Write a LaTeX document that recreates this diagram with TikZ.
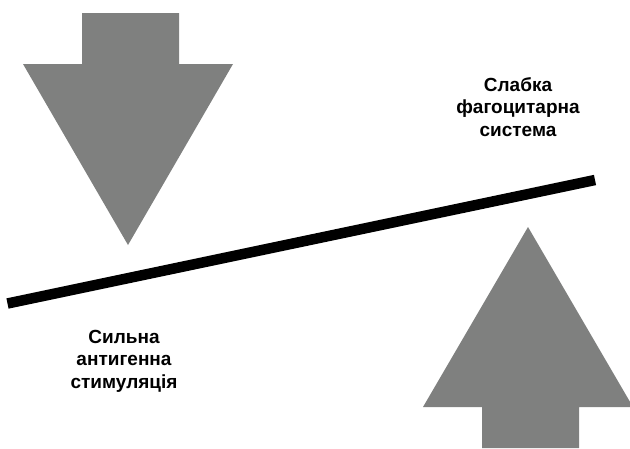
\documentclass[tikz,border=0pt]{standalone}
\usepackage{fontspec}
\setmainfont{Liberation Sans}
\usepackage{tikz}
\usetikzlibrary{positioning}
\definecolor{arrowgray}{HTML}{7F807F}

\begin{document}
\begin{tikzpicture}[x=1pt, y=-1pt, bigarrow/.style={fill=arrowgray, draw=none}, label/.style={align=center, font=\bfseries\fontsize{19}{22.5}\selectfont, inner sep=0pt}]
    \useasboundingbox (0,0) rectangle (630,448);
    % down arrow (left)
    \fill[bigarrow] (82,13) -- (179,13) -- (179,64) -- (233,64) -- (128,245) -- (23,64) -- (82,64) -- cycle;
    % up arrow (right)
    \fill[bigarrow] (482,448) -- (579,448) -- (579,407) -- (633,407) -- (528,227) -- (423,407) -- (482,407) -- cycle;
    % lever
    \draw[line width=10.5pt] (7.5,303.5) -- (595,180);
    \node[label] (weak-phago) at (518,107) {Слабка\\фагоцитарна\\система};
    \node[label] (strong-antigen) at (124,361) {Сильна\\антигенна\\стимуляція};
\end{tikzpicture}
\end{document}
